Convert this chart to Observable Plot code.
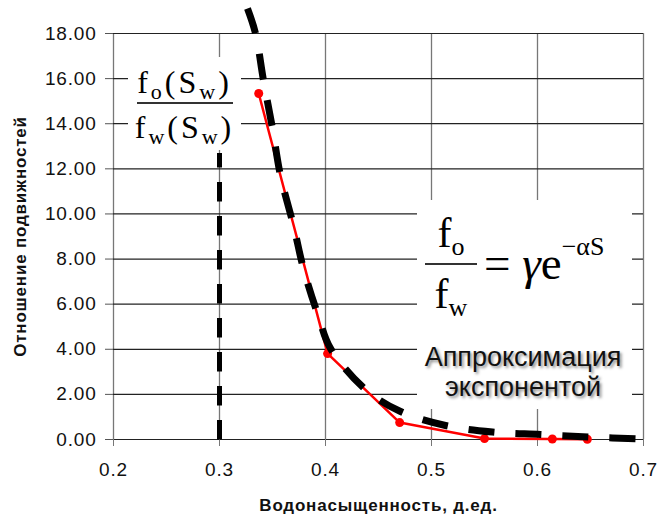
<!DOCTYPE html>
<html>
<head>
<meta charset="utf-8">
<script src="https://cdn.jsdelivr.net/npm/d3@7"></script>
<script src="https://cdn.jsdelivr.net/npm/@observablehq/plot@0.6"></script>
<style>
  body { margin: 0; background: #fff; }
  #wrap { position: relative; width: 658px; height: 515px; overflow: hidden; }
  .box { position: absolute; background: #fff; }
  .serif { position: absolute; font-family: "Liberation Serif", "Times New Roman", serif; color: #000; white-space: nowrap; line-height: 1; }
  .bar { position: absolute; background: #333; }
  .sans { position: absolute; font-family: "Liberation Sans", Arial, sans-serif; color: #111; text-align: center; white-space: nowrap;
          text-shadow: 2px 2px 3px rgba(0,0,0,0.45); }
  svg text { letter-spacing: 0.8px; }
</style>
</head>
<body>
<div id="wrap"></div>
<script>
// ---- data ----
const xTicks = [0.2, 0.3, 0.4, 0.5, 0.6, 0.7];
const yTicks = [0, 2, 4, 6, 8, 10, 12, 14, 16, 18];

// measured mobility ratio (red)
const dataS = [0.337, 0.402, 0.470, 0.550, 0.614, 0.647];
const dataRatio = [15.34, 3.81, 0.75, 0.04, 0.02, 0.01];

// exponential approximation (black dashed)
const fitS = [0.3264, 0.334, 0.3415, 0.350, 0.3575, 0.370, 0.3792, 0.3934, 0.4047, 0.4377, 0.4708, 0.5132, 0.5575, 0.6028, 0.648, 0.702];
const fitRatio = [19.11, 18.0, 15.92, 13.79, 11.71, 9.45, 7.58, 5.45, 4.04, 2.22, 1.24, 0.62, 0.33, 0.22, 0.11, 0.02];

// vertical cutoff line
const cutoffS = [0.3, 0.3];
const cutoffRatio = [0, 12.7];

const xLabel = "Водонасыщенность, д.ед.";
const yLabel = "Отношение подвижностей";

const measured = dataS.map((s, i) => ({s, r: dataRatio[i]}));
const fitted = fitS.map((s, i) => ({s, r: fitRatio[i]}));
const cutoff = cutoffS.map((s, i) => ({s, r: cutoffRatio[i]}));

const chart = Plot.plot({
  width: 658,
  height: 515,
  marginLeft: 113,
  marginRight: 15,
  marginTop: 33,
  marginBottom: 76,
  x: {domain: [0.2, 0.7]},
  y: {domain: [0, 18]},
  style: {fontFamily: "'Liberation Sans', Arial, sans-serif", background: "#fff", overflow: "visible", color: "#111"},
  marks: [
    Plot.gridX(xTicks, {stroke: "#777", strokeOpacity: 1, strokeWidth: 1.3}),
    Plot.gridY(yTicks, {stroke: "#222", strokeOpacity: 1, strokeWidth: 1.2}),
    Plot.axisY(yTicks, {tickFormat: d3.format(".2f"), tickSize: 8, tickPadding: 9, fontSize: 19, label: null, stroke: "#555"}),
    Plot.axisX(xTicks, {tickFormat: d => String(d), tickSize: 7, tickPadding: 16, fontSize: 19, label: null, stroke: "#777"}),
    Plot.line(cutoff, {x: "s", y: "r", stroke: "#000", strokeWidth: 5, strokeDasharray: "19.5,14.5", strokeLinecap: "butt"}),
    Plot.line(measured, {x: "s", y: "r", stroke: "#ff0000", strokeWidth: 2.5}),
    Plot.dot(measured, {x: "s", y: "r", r: 4.5, fill: "#ff0000", stroke: "none"}),
    Plot.line(fitted, {x: "s", y: "r", stroke: "#000", strokeWidth: 7, strokeDasharray: "26,21", curve: "catmull-rom", strokeLinecap: "butt"}),
    Plot.text([yLabel], {frameAnchor: "left", dx: -93, rotate: -90, textAnchor: "middle", lineAnchor: "middle", fontSize: 17, fontWeight: "bold", fill: "#111"}),
    Plot.text([xLabel], {frameAnchor: "bottom", dy: 66, textAnchor: "middle", lineAnchor: "middle", fontSize: 17, fontWeight: "bold", fill: "#111"})
  ]
});

const wrap = document.getElementById("wrap");
wrap.appendChild(chart);

const overlay = document.createElement("div");
overlay.innerHTML = `
  <div class="box" style="left:128px;top:57px;width:113px;height:93px;"></div>
  <div class="serif" style="left:126px;top:66px;width:117px;text-align:center;font-size:32px;letter-spacing:3px;">f<span style="font-size:22px;position:relative;top:6px;">o</span>(S<span style="font-size:22px;position:relative;top:6px;">w</span>)</div>
  <div class="bar" style="left:137px;top:102px;width:96px;height:2px;"></div>
  <div class="serif" style="left:126px;top:111px;width:117px;text-align:center;font-size:32px;letter-spacing:3px;">f<span style="font-size:22px;position:relative;top:6px;">w</span>(S<span style="font-size:22px;position:relative;top:6px;">w</span>)</div>

  <div class="box" style="left:417px;top:200px;width:215px;height:209px;"></div>
  <div class="serif" style="left:425px;top:212px;width:52px;text-align:center;font-size:42px;">f<span style="font-size:26px;position:relative;top:8px;">o</span></div>
  <div class="bar" style="left:425px;top:263px;width:52px;height:2px;"></div>
  <div class="serif" style="left:425px;top:273px;width:52px;text-align:center;font-size:42px;">f<span style="font-size:26px;position:relative;top:8px;">w</span></div>
  <div class="serif" style="left:484px;top:240px;font-size:47px;">= <i>γ</i>e<span style="font-size:26px;position:relative;top:-24px;">−αS</span></div>

  <div class="sans" style="left:417px;top:342px;width:212px;font-size:27px;line-height:30px;">Аппроксимация<br>экспонентой</div>
`;
wrap.appendChild(overlay);
</script>
</body>
</html>
